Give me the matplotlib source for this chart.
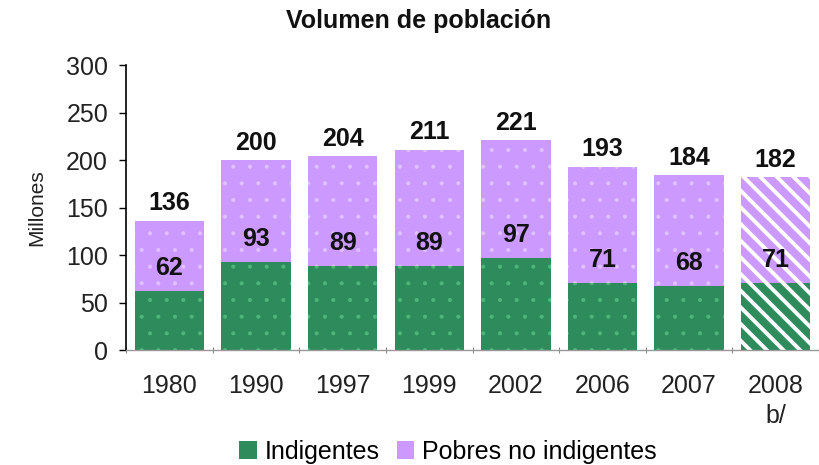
import matplotlib
matplotlib.use("Agg")
import matplotlib.pyplot as plt
import numpy as np
from matplotlib.patches import Patch

years = ["1980", "1990", "1997", "1999", "2002", "2006", "2007", "2008\nb/"]
totales = [136, 200, 204, 211, 221, 193, 184, 182]
indigentes = [62, 93, 89, 89, 97, 71, 68, 71]
pobres_no_ind = [t - i for t, i in zip(totales, indigentes)]

GREEN = "#2E8B5C"
PURPLE = "#CC99FF"

plt.rcParams['font.family'] = ['Liberation Sans', 'DejaVu Sans']

fig = plt.figure(figsize=(8.19, 4.65), dpi=100)
ax = fig.add_axes([0.154, 0.247, 0.846, 0.613])

x = np.arange(len(years))
w = 0.8
n_solid = len(years) - 1

# solid bars (all but projection)
ax.bar(x[:n_solid], indigentes[:n_solid], w, color=GREEN, linewidth=0)
ax.bar(x[:n_solid], pobres_no_ind[:n_solid], w, bottom=indigentes[:n_solid], color=PURPLE, linewidth=0)

# subtle dot texture
with plt.rc_context({'hatch.linewidth': 0.5}):
    ax.bar(x[:n_solid], indigentes[:n_solid], w, facecolor='none', edgecolor='#4FB67A', hatch='.', linewidth=0)
    ax.bar(x[:n_solid], pobres_no_ind[:n_solid], w, bottom=indigentes[:n_solid], facecolor='none', edgecolor='#E0C2FF', hatch='.', linewidth=0)

# projected 2008 bar with white stripes
with plt.rc_context({'hatch.linewidth': 2.8}):
    ax.bar(x[n_solid:], indigentes[n_solid:], w, facecolor=GREEN, edgecolor='white', hatch='\\\\', linewidth=0)
    ax.bar(x[n_solid:], pobres_no_ind[n_solid:], w, bottom=indigentes[n_solid:], facecolor=PURPLE, edgecolor='white', hatch='\\\\', linewidth=0)

# labels
for xi, t, ind in zip(x, totales, indigentes):
    ax.annotate(str(t), (xi, t), xytext=(0, 4), textcoords='offset points',
                ha='center', va='bottom', fontsize=18, fontweight='bold', color='#111111')
    ax.text(xi, ind + 24, str(ind), ha='center', va='center',
            fontsize=18, fontweight='bold', color='#111111')

ax.set_xlim(-0.5, len(years) - 0.5)
ax.set_ylim(0, 300)
ax.set_yticks([0, 50, 100, 150, 200, 250, 300])
ax.set_xticks(x)
ax.set_xticklabels(years)
ax.set_xticks(np.arange(len(years) + 1) - 0.5, minor=True)
ax.tick_params(axis='y', labelsize=18, direction='out', length=5, width=1, colors='black', pad=8)
ax.tick_params(axis='y', labelcolor='#222222')
ax.tick_params(axis='x', which='major', length=0, labelsize=18, pad=17, labelcolor='#222222')
ax.tick_params(axis='x', which='minor', length=4, width=0.8, color='#888888', direction='inout')
for lbl in ax.get_xticklabels():
    lbl.set_linespacing(1.35)

for s in ['top', 'right']:
    ax.spines[s].set_visible(False)
ax.spines['left'].set_color('black')
ax.spines['left'].set_linewidth(1.2)
ax.spines['bottom'].set_color('#999999')
ax.spines['bottom'].set_linewidth(1.0)

ax.set_ylabel("Millones", fontsize=15, labelpad=14, color='#222222')

fig.text(0.511, 0.955, "Volumen de población", ha='center', va='center',
         fontsize=18, fontweight='bold', color='#111111')

handles = [Patch(facecolor=GREEN, edgecolor='none'), Patch(facecolor=PURPLE, edgecolor='none')]
fig.legend(handles, ["Indigentes", "Pobres no indigentes"], loc='center',
           bbox_to_anchor=(0.547, 0.028), ncol=2, frameon=False, fontsize=18,
           handlelength=0.7, handleheight=0.7, handletextpad=0.3, columnspacing=0.7)

fig.savefig("out.png", dpi=100)
